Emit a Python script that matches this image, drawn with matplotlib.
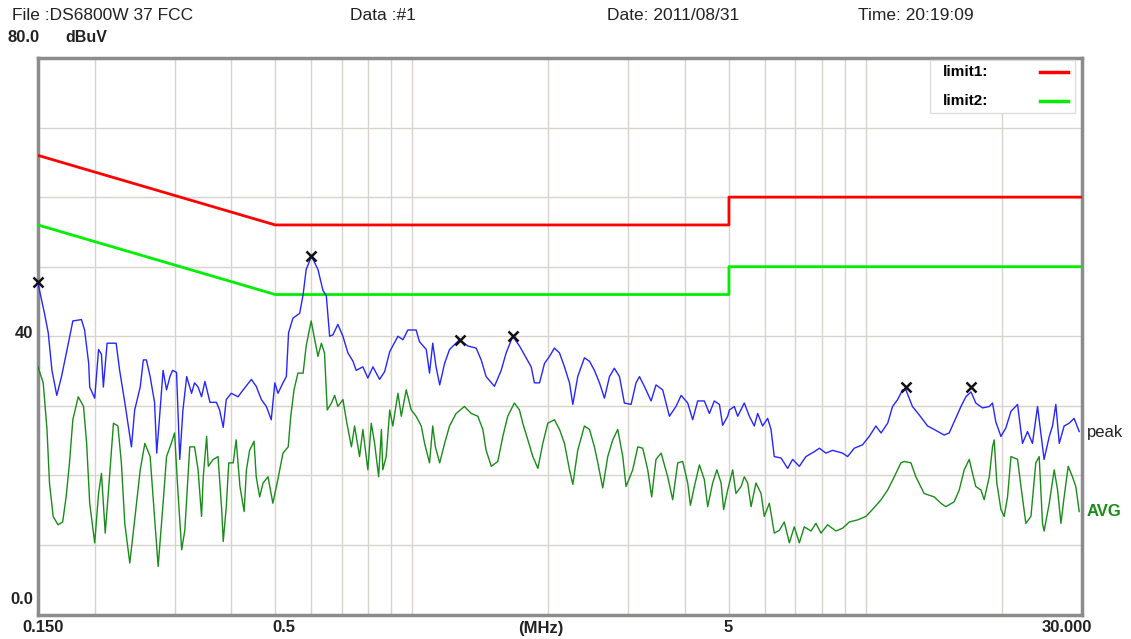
import matplotlib.pyplot as plt
from matplotlib.patches import Rectangle
from matplotlib.lines import Line2D
from matplotlib.ticker import FixedLocator, NullLocator

plt.rcParams['font.family'] = ['Liberation Sans', 'DejaVu Sans']

W, H = 1131, 639

# limit lines (FCC class B, QP and AV)
lim1_f = [0.15, 0.5, 5.0, 5.0, 30.0]
lim1_v = [66, 56, 56, 60, 60]
lim2_f = [0.15, 0.5, 5.0, 5.0, 30.0]
lim2_v = [56, 46, 46, 50, 50]

# peak trace (MHz, dBuV)
pk_f = [0.150, 0.155, 0.158, 0.161, 0.165, 0.169, 0.175, 0.179, 0.187, 0.190,
        0.194, 0.195, 0.200, 0.204, 0.207, 0.209, 0.213, 0.223, 0.227, 0.233,
        0.239, 0.241, 0.245, 0.252, 0.256, 0.260, 0.265, 0.271, 0.274, 0.278,
        0.283, 0.288, 0.293, 0.297, 0.303, 0.308, 0.313, 0.319, 0.327, 0.332,
        0.338, 0.344, 0.350, 0.359, 0.371, 0.377, 0.384, 0.390, 0.400, 0.414,
        0.425, 0.443, 0.454, 0.466, 0.478, 0.490, 0.499, 0.507, 0.520, 0.529,
        0.535, 0.547, 0.566, 0.576, 0.585, 0.601, 0.621, 0.637, 0.648, 0.659,
        0.670, 0.687, 0.705, 0.723, 0.742, 0.754, 0.780, 0.800, 0.821, 0.849,
        0.871, 0.894, 0.932, 0.956, 0.980, 1.022, 1.040, 1.076, 1.094, 1.112,
        1.131, 1.152, 1.181, 1.211, 1.242, 1.274, 1.329, 1.386, 1.422, 1.458,
        1.521, 1.574, 1.614, 1.669, 1.727, 1.786, 1.833, 1.863, 1.912, 1.961,
        2.011, 2.062, 2.116, 2.170, 2.226, 2.264, 2.321, 2.401, 2.464, 2.526,
        2.592, 2.658, 2.727, 2.795, 2.869, 2.941, 3.043, 3.120, 3.175, 3.255,
        3.368, 3.453, 3.572, 3.696, 3.821, 3.923, 4.056, 4.159, 4.267, 4.413,
        4.528, 4.642, 4.764, 4.843, 4.968, 5.012, 5.138, 5.227, 5.405, 5.546,
        5.686, 5.785, 5.932, 6.085, 6.191, 6.293, 6.514, 6.735, 6.907, 7.147,
        7.389, 7.709, 7.910, 8.178, 8.460, 8.900, 9.131, 9.443, 9.850, 10.19,
        10.54, 10.82, 11.19, 11.47, 11.77, 12.07, 12.27, 12.69, 13.13, 13.70,
        14.17, 14.90, 15.29, 15.68, 16.23, 16.64, 17.08, 17.50, 18.11, 18.74,
        19.05, 19.37, 19.88, 20.38, 20.92, 21.63, 22.18, 22.75, 23.33, 23.94,
        24.75, 25.41, 25.83, 26.27, 26.73, 27.40, 28.11, 28.82, 29.58]
pk_v = [47.6, 43.3, 40.5, 35.1, 31.5, 34.2, 39.0, 42.2, 42.4, 40.9,
        36.1, 32.7, 31.1, 38.1, 37.4, 32.7, 39.0, 39.0, 35.1, 30.5,
        25.6, 24.1, 29.4, 32.7, 36.6, 36.6, 34.2, 30.5, 23.2, 28.4,
        35.1, 32.3, 34.2, 35.1, 34.8, 22.3, 29.4, 34.2, 31.8, 33.3,
        32.7, 31.3, 33.5, 30.5, 30.5, 29.4, 26.9, 30.9, 31.8, 31.3,
        32.3, 33.8, 32.8, 30.9, 29.9, 28.0, 33.3, 31.8, 33.3, 34.2,
        40.5, 42.6, 43.3, 46.0, 49.6, 51.5, 49.6, 46.6, 45.8, 40.0,
        40.2, 41.7, 40.0, 37.6, 36.4, 35.1, 35.6, 34.0, 35.6, 33.8,
        34.9, 37.8, 40.0, 39.5, 40.9, 40.9, 39.2, 38.1, 34.7, 39.0,
        35.6, 33.0, 36.1, 38.1, 38.8, 39.5, 38.6, 38.3, 36.6, 34.2,
        32.8, 35.1, 37.6, 40.0, 38.6, 36.9, 35.6, 33.3, 33.3, 36.1,
        37.1, 38.3, 37.6, 35.6, 33.3, 30.2, 34.2, 36.9, 36.4, 35.1,
        33.3, 31.1, 34.2, 35.4, 34.2, 30.4, 30.2, 33.3, 34.2, 32.8,
        30.7, 33.0, 32.3, 28.5, 29.9, 31.5, 30.4, 28.0, 30.7, 30.7,
        28.9, 30.7, 30.2, 27.2, 28.5, 29.4, 29.9, 28.5, 30.4, 28.5,
        27.1, 28.9, 27.1, 28.2, 26.6, 22.7, 22.5, 21.0, 22.3, 21.3,
        22.7, 23.4, 23.9, 23.2, 23.6, 23.2, 22.7, 23.9, 24.4, 25.6,
        27.1, 26.1, 27.5, 29.9, 30.9, 32.3, 32.3, 29.9, 28.7, 27.1,
        26.6, 25.8, 26.1, 27.7, 29.9, 31.3, 32.0, 30.4, 29.7, 29.9,
        30.4, 27.7, 25.6, 26.8, 29.2, 30.2, 24.6, 26.3, 24.6, 29.9,
        22.3, 25.6, 27.1, 30.2, 24.6, 27.1, 27.5, 28.2, 26.3]

# average trace (MHz, dBuV)
av_f = [0.150, 0.154, 0.157, 0.159, 0.162, 0.166, 0.170, 0.173, 0.176, 0.179,
        0.184, 0.189, 0.192, 0.195, 0.200, 0.204, 0.207, 0.211, 0.214, 0.220,
        0.225, 0.229, 0.233, 0.239, 0.245, 0.252, 0.258, 0.265, 0.269, 0.276,
        0.283, 0.288, 0.295, 0.300, 0.305, 0.311, 0.316, 0.324, 0.332, 0.338,
        0.344, 0.347, 0.353, 0.356, 0.365, 0.374, 0.381, 0.384, 0.390, 0.395,
        0.404, 0.410, 0.418, 0.427, 0.432, 0.439, 0.449, 0.454, 0.462, 0.470,
        0.482, 0.494, 0.507, 0.520, 0.534, 0.541, 0.550, 0.561, 0.576, 0.585,
        0.600, 0.611, 0.621, 0.632, 0.642, 0.651, 0.665, 0.676, 0.687, 0.705,
        0.717, 0.736, 0.748, 0.767, 0.780, 0.800, 0.814, 0.828, 0.845, 0.857,
        0.863, 0.878, 0.894, 0.908, 0.932, 0.948, 0.972, 0.997, 1.022, 1.049,
        1.067, 1.094, 1.112, 1.127, 1.152, 1.181, 1.211, 1.252, 1.306, 1.352,
        1.398, 1.434, 1.458, 1.497, 1.547, 1.587, 1.627, 1.683, 1.727, 1.756,
        1.802, 1.848, 1.896, 1.944, 1.994, 2.062, 2.116, 2.170, 2.226, 2.264,
        2.321, 2.401, 2.464, 2.526, 2.570, 2.635, 2.703, 2.772, 2.844, 2.917,
        2.966, 3.068, 3.148, 3.228, 3.311, 3.378, 3.453, 3.544, 3.664, 3.758,
        3.856, 3.954, 4.056, 4.112, 4.195, 4.304, 4.413, 4.489, 4.603, 4.703,
        4.805, 4.867, 4.968, 5.095, 5.181, 5.318, 5.405, 5.498, 5.594, 5.734,
        5.885, 5.982, 6.138, 6.293, 6.458, 6.621, 6.794, 6.965, 7.147, 7.328,
        7.584, 7.773, 7.978, 8.250, 8.604, 8.900, 9.210, 9.605, 10.02, 10.36,
        10.82, 11.19, 11.57, 11.97, 12.17, 12.59, 12.91, 13.46, 14.17, 14.66,
        15.03, 15.68, 16.09, 16.50, 16.93, 17.21, 17.50, 17.96, 18.26, 18.74,
        19.05, 19.21, 19.47, 19.88, 20.21, 20.56, 20.92, 21.63, 22.01, 22.56,
        23.15, 23.73, 24.14, 24.55, 24.75, 25.41, 26.05, 26.50, 26.96, 27.40,
        27.97, 28.58, 29.07, 29.58]
av_v = [35.6, 33.3, 26.6, 18.9, 14.1, 12.9, 13.3, 16.9, 21.8, 28.0,
        31.3, 29.9, 24.6, 16.0, 10.3, 17.4, 20.3, 11.7, 16.9, 27.5,
        27.1, 21.8, 13.1, 7.4, 13.6, 20.8, 24.6, 22.7, 16.9, 6.9,
        16.0, 22.7, 24.6, 26.1, 17.9, 9.3, 12.1, 24.1, 24.1, 20.8,
        14.1, 19.8, 25.6, 21.3, 22.3, 22.7, 15.1, 10.5, 15.5, 21.8,
        21.8, 25.1, 18.4, 14.8, 20.8, 23.6, 24.9, 19.8, 16.9, 18.9,
        19.8, 16.0, 19.5, 23.2, 24.1, 28.5, 32.3, 34.7, 34.7, 38.6,
        42.2, 39.5, 37.1, 39.0, 37.6, 29.4, 30.4, 31.5, 29.9, 30.9,
        28.0, 24.1, 27.1, 22.7, 26.6, 20.8, 27.5, 24.6, 19.8, 26.6,
        20.8, 22.7, 29.4, 27.1, 31.8, 28.5, 32.3, 29.4, 28.5, 27.1,
        24.6, 21.8, 27.1, 24.1, 21.8, 24.6, 27.1, 28.9, 29.9, 28.9,
        28.5, 26.6, 23.6, 21.3, 22.0, 25.6, 28.5, 30.4, 29.4, 27.5,
        25.1, 22.7, 21.0, 24.6, 27.5, 28.0, 26.6, 24.6, 20.8, 18.7,
        23.6, 27.1, 26.6, 24.1, 21.8, 18.2, 22.7, 25.1, 26.6, 22.7,
        18.4, 20.8, 24.1, 23.9, 20.8, 16.9, 22.3, 23.2, 19.8, 16.5,
        21.8, 22.0, 18.9, 15.7, 18.4, 21.5, 19.4, 15.5, 18.9, 20.8,
        18.9, 15.1, 17.9, 20.8, 17.4, 18.4, 19.8, 18.9, 15.5, 18.9,
        17.4, 14.1, 16.0, 11.7, 12.1, 13.3, 10.3, 12.6, 10.3, 12.6,
        12.0, 13.1, 11.7, 12.9, 12.0, 12.4, 13.3, 13.6, 14.1, 15.1,
        16.5, 17.9, 19.8, 21.8, 22.0, 21.8, 19.8, 17.4, 16.9, 16.0,
        15.5, 16.2, 17.9, 20.8, 22.3, 20.3, 18.4, 17.9, 16.5, 19.8,
        24.1, 25.1, 18.9, 15.1, 14.1, 16.9, 22.7, 22.3, 18.4, 13.1,
        14.1, 21.8, 22.7, 13.1, 12.0, 16.0, 20.8, 17.9, 13.1, 16.9,
        21.3, 19.8, 18.4, 14.8]

# peak markers
mk_f = [0.150, 0.601, 1.274, 1.669, 12.27, 17.08]
mk_v = [47.8, 51.6, 39.5, 40.1, 32.7, 32.7]

grid_f = [0.2, 0.3, 0.4, 0.5, 0.6, 0.7, 0.8, 0.9, 1, 2, 3, 4, 5, 6, 7, 8, 9, 10, 20]


def px(x, y):
    return x / W, 1 - y / H


fig = plt.figure(figsize=(W / 100, H / 100), dpi=100)
ax = fig.add_axes([38 / W, 24.5 / H, 1044 / W, 556.5 / H])
ax.set_xscale('log')
ax.set_xlim(0.15, 30)
ax.set_ylim(0, 80)
ax.xaxis.set_major_locator(FixedLocator(grid_f))
ax.xaxis.set_minor_locator(NullLocator())
ax.set_yticks(range(10, 80, 10))
ax.tick_params(which='both', length=0, labelbottom=False, labelleft=False)
ax.grid(True, color='#d8d4cc', lw=1)
ax.set_axisbelow(True)
for s in ax.spines.values():
    s.set_color('#8c8c8c')
    s.set_linewidth(2.5)

ax.plot(lim1_f, lim1_v, color='#ff0000', lw=2, zorder=3)
ax.plot(lim2_f, lim2_v, color='#00ee00', lw=2, zorder=3)
ax.plot(av_f, av_v, color='#1a8c1a', lw=1, zorder=4)
ax.plot(pk_f, pk_v, color='#2626ff', lw=1, zorder=5)
ax.plot(mk_f, mk_v, ls='none', marker='x', color='#111111', ms=7, mew=1.8,
        zorder=6, clip_on=False)

# legend box
ax.add_patch(Rectangle(px(930, 113), 145 / W, 53 / H, transform=fig.transFigure,
                       facecolor='white', edgecolor='#dcdcdc', lw=1, zorder=7))
fig.add_artist(Line2D([1040 / W, 1068 / W], [1 - 72 / H] * 2, color='#ff0000', lw=2.5))
fig.add_artist(Line2D([1040 / W, 1068 / W], [1 - 101 / H] * 2, color='#00ee00', lw=2.5))
fig.text(*px(943, 72), 'limit1:', fontsize=11, fontweight='bold', va='center')
fig.text(*px(943, 101), 'limit2:', fontsize=11, fontweight='bold', va='center')

# header
tc = '#222222'
fig.text(*px(12, 15), 'File :DS6800W 37 FCC', fontsize=12.5, color=tc, va='center')
fig.text(*px(350, 15), 'Data :#1', fontsize=12.5, color=tc, va='center')
fig.text(*px(607, 15), 'Date: 2011/08/31', fontsize=12.5, color=tc, va='center')
fig.text(*px(858, 15), 'Time: 20:19:09', fontsize=12.5, color=tc, va='center')
fig.text(*px(8, 38), '80.0', fontsize=12, fontweight='bold', color=tc, va='center')
fig.text(*px(65, 38), 'dBuV', fontsize=11.5, fontweight='bold', color=tc, va='center')

# axis labels
fig.text(*px(33, 333), '40', fontsize=12, fontweight='bold', color=tc, va='center', ha='right')
fig.text(*px(33, 600), '0.0', fontsize=12, fontweight='bold', color=tc, va='center', ha='right')
fig.text(*px(22, 628), '0.150', fontsize=12, fontweight='bold', color=tc, va='center')
fig.text(*px(272, 628), '0.5', fontsize=12, fontweight='bold', color=tc, va='center')
fig.text(*px(541, 628), '(MHz)', fontsize=12, fontweight='bold', color=tc, va='center', ha='center')
fig.text(*px(728, 628), '5', fontsize=12, fontweight='bold', color=tc, va='center', ha='center')
fig.text(*px(1092, 628), '30.000', fontsize=12, fontweight='bold', color=tc, va='center', ha='right')

fig.text(*px(1087, 432), 'peak', fontsize=12, color=tc, va='center')
fig.text(*px(1087, 511), 'AVG', fontsize=12, fontweight='bold', color='#1a8c1a', va='center')

fig.savefig('out.png', dpi=100)
